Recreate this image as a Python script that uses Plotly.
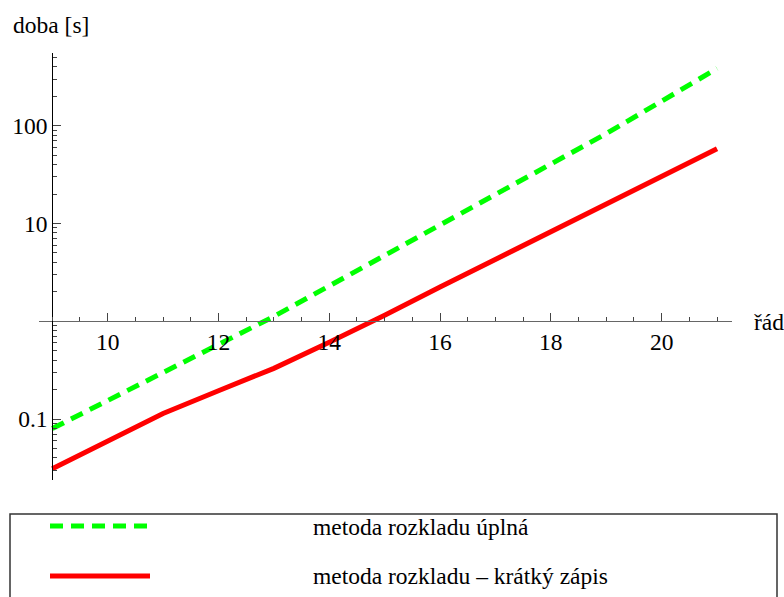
import plotly.graph_objects as go

# ---- data ----
order = [9, 10, 11, 12, 13, 14, 15, 16, 17, 18, 19, 20, 21]
time_full = [0.080, 0.155, 0.30, 0.57, 1.12, 2.3, 4.7, 9.5, 20, 41, 83, 178, 384]
time_short = [0.031, 0.060, 0.114, 0.195, 0.33, 0.61, 1.15, 2.24, 4.3, 8.1, 15.5, 30, 58]
series_names = ["metoda rozkladu úplná", "metoda rozkladu – krátký zápis"]
x_tick_vals = [10, 12, 14, 16, 18, 20]
y_tick_vals = [0.1, 10, 100]
y_tick_text = ["0.1", "10", "100"]
y_minor_vals = [0.03, 0.04, 0.05, 0.06, 0.07, 0.08, 0.09,
                0.2, 0.3, 0.4, 0.5, 0.6, 0.7, 0.8, 0.9,
                2, 3, 4, 5, 6, 7, 8, 9,
                20, 30, 40, 50, 60, 70, 80, 90,
                200, 300, 400, 500]
x_title = "řád"
y_title = "doba [s]"

# ---- layout geometry (pixels) ----
W, H = 784, 597
ML, MR, MT, MB = 39, 52, 53, 117
PW, PH = W - ML - MR, H - MT - MB


def px_x(p):
    return (p - ML) / PW


def px_y(p):
    return (H - MB - p) / PH


FONT = "Liberation Serif, Times New Roman, DejaVu Serif, serif"
FS = 23.5
GREEN = "#00ff00"
RED = "#ff0000"
GREEN_DASH = "13px,8px"

fig = go.Figure()
fig.add_trace(go.Scatter(x=order, y=time_full, mode="lines", name=series_names[0],
                         line=dict(color=GREEN, width=5, dash=GREEN_DASH)))
fig.add_trace(go.Scatter(x=order, y=time_short, mode="lines", name=series_names[1],
                         line=dict(color=RED, width=5)))

fig.update_layout(
    width=W, height=H,
    margin=dict(l=ML, r=MR, t=MT, b=MB),
    paper_bgcolor="white", plot_bgcolor="white",
    showlegend=False,
    font=dict(family=FONT, size=FS, color="black"),
    xaxis=dict(
        range=[8.76, 21.27], anchor="free", position=px_y(321),
        showline=True, linecolor="#666666", linewidth=1,
        ticks="inside", ticklen=8, tickwidth=1, tickcolor="#444444",
        tickvals=x_tick_vals, showgrid=False, zeroline=False,
        minor=dict(dtick=0.5, tick0=0, ticks="inside", ticklen=4.5,
                   tickwidth=1, tickcolor="#444444"),
        tickfont=dict(family=FONT, size=FS, color="black"),
    ),
    yaxis=dict(
        type="log", range=[-1.623, 2.743], anchor="free", position=px_x(52.3),
        showline=True, linecolor="black", linewidth=1,
        ticks="inside", ticklen=8, tickwidth=1, tickcolor="#444444",
        tickvals=y_tick_vals, ticktext=y_tick_text, showgrid=False, zeroline=False,
        minor=dict(tickvals=y_minor_vals, ticks="inside", ticklen=4,
                   tickwidth=1, tickcolor="#444444"),
        tickfont=dict(family=FONT, size=FS, color="black"),
    ),
)

annot_font = dict(family=FONT, size=FS, color="black")
annotations = [
    dict(text=y_title, x=px_x(11), y=px_y(25), xref="paper", yref="paper",
         xanchor="left", yanchor="middle", showarrow=False, font=annot_font),
    dict(text=x_title, x=px_x(752), y=px_y(322), xref="paper", yref="paper",
         xanchor="left", yanchor="middle", showarrow=False, font=annot_font),
    dict(text=series_names[0], x=px_x(311), y=px_y(527), xref="paper", yref="paper",
         xanchor="left", yanchor="middle", showarrow=False, font=annot_font),
    dict(text=series_names[1], x=px_x(311), y=px_y(576), xref="paper", yref="paper",
         xanchor="left", yanchor="middle", showarrow=False, font=annot_font),
]
fig.update_layout(annotations=annotations)

shapes = [
    dict(type="rect", xref="paper", yref="paper",
         x0=px_x(10), x1=px_x(777), y0=px_y(610), y1=px_y(514),
         line=dict(color="#333333", width=1.5), fillcolor="rgba(0,0,0,0)"),
    dict(type="line", xref="paper", yref="paper",
         x0=px_x(50), x1=px_x(150), y0=px_y(526), y1=px_y(526),
         line=dict(color=GREEN, width=5, dash=GREEN_DASH)),
    dict(type="line", xref="paper", yref="paper",
         x0=px_x(50), x1=px_x(150), y0=px_y(576), y1=px_y(576),
         line=dict(color=RED, width=5)),
]
fig.update_layout(shapes=shapes)

fig.write_html("out.html")
